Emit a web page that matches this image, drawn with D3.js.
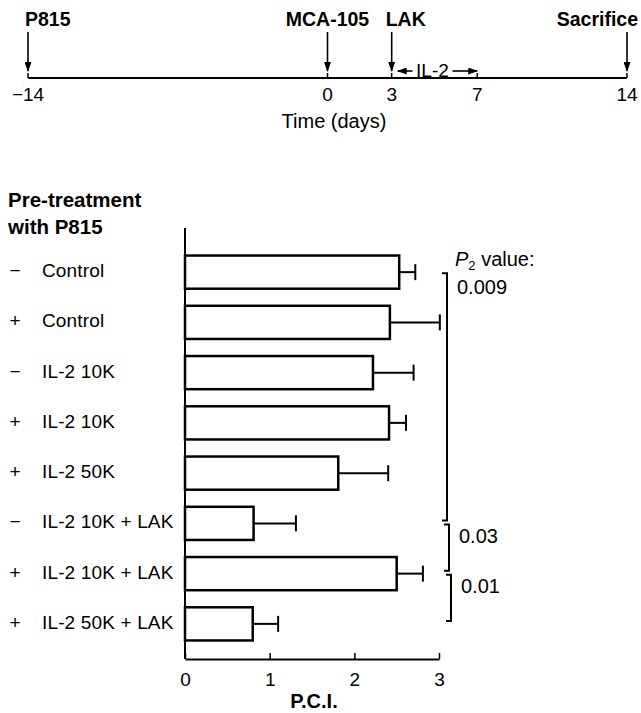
<!DOCTYPE html>
<html>
<head>
<meta charset="utf-8">
<script src="https://cdn.jsdelivr.net/npm/d3@7"></script>
<style>
  body { margin: 0; background: #fff; }
  svg { font-family: "Liberation Sans", Arial, sans-serif; }
</style>
</head>
<body>
<div class="chart"></div>
<script>
var w = 641, h = 713;

// timeline
var tlDays = [-14, 0, 3, 7, 14];
var tlEvents = ["P815", "MCA-105", "LAK", "Sacrifice"];
var tlEventDays = [-14, 0, 3, 14];
var il2Days = [3, 7];

// bar chart
var signs = ["\u2212", "+", "\u2212", "+", "+", "\u2212", "+", "+"];
var groups = ["Control", "Control", "IL-2 10K", "IL-2 10K", "IL-2 50K",
              "IL-2 10K + LAK", "IL-2 10K + LAK", "IL-2 50K + LAK"];
var pci = [2.53, 2.42, 2.22, 2.41, 1.81, 0.81, 2.50, 0.80];
var sem = [0.19, 0.59, 0.48, 0.20, 0.59, 0.50, 0.31, 0.30];
var pciTicks = [0, 1, 2, 3];
var pValues = ["0.009", "0.03", "0.01"];
var pPairs = [[0, 5], [5, 6], [6, 7]];

var svg = d3.select(".chart")
            .append("svg")
            .attr("width", w)
            .attr("height", h);

svg.append("defs").append("marker")
    .attr("id", "head")
    .attr("viewBox", "0 0 10 10")
    .attr("refX", 9).attr("refY", 5)
    .attr("markerWidth", 10).attr("markerHeight", 7)
    .attr("markerUnits", "userSpaceOnUse")
    .attr("orient", "auto-start-reverse")
    .attr("preserveAspectRatio", "none")
    .append("path")
    .attr("d", "M0,0 L10,5 L0,10 z")
    .attr("fill", "#000");

// ---- timeline ----
var tx = d3.scaleLinear().domain([-14, 14]).range([28, 627]);
var lineY = 78;
var tl = svg.append("g");

tl.append("line")
    .attr("x1", tx(-14)).attr("x2", tx(14))
    .attr("y1", lineY).attr("y2", lineY)
    .attr("stroke", "#000").attr("stroke-width", 2);

tl.selectAll(".tick")
    .data(tlDays)
    .enter()
    .append("line")
    .attr("x1", function(d) { return tx(d); })
    .attr("x2", function(d) { return tx(d); })
    .attr("y1", lineY - 5).attr("y2", lineY)
    .attr("stroke", "#000").attr("stroke-width", 1.5);

tl.selectAll(".daylab")
    .data(tlDays)
    .enter()
    .append("text")
    .text(function(d) { return d < 0 ? "\u2212" + Math.abs(d) : d; })
    .attr("x", function(d) { return tx(d); })
    .attr("y", 101)
    .attr("font-size", "19px")
    .attr("text-anchor", "middle");

tl.selectAll(".arrow")
    .data(tlEventDays)
    .enter()
    .append("line")
    .attr("x1", function(d) { return tx(d); })
    .attr("x2", function(d) { return tx(d); })
    .attr("y1", 32).attr("y2", lineY - 7)
    .attr("stroke", "#000").attr("stroke-width", 1.6)
    .attr("marker-end", "url(#head)");

var evAnchor = ["start", "middle", "start", "end"];
var evShift = [-3, 0, -6, 11];
tl.selectAll(".evlab")
    .data(tlEvents)
    .enter()
    .append("text")
    .text(function(d) { return d; })
    .attr("x", function(d, i) { return tx(tlEventDays[i]) + evShift[i]; })
    .attr("y", 26)
    .attr("font-size", "19.5px")
    .attr("font-weight", "bold")
    .attr("text-anchor", function(d, i) { return evAnchor[i]; });

// IL-2 double arrow
var ilMid = (tx(il2Days[0]) + tx(il2Days[1])) / 2 - 2;
tl.append("line")
    .attr("x1", ilMid - 20).attr("x2", tx(il2Days[0]) + 6)
    .attr("y1", 71).attr("y2", 71)
    .attr("stroke", "#000").attr("stroke-width", 1.6)
    .attr("marker-end", "url(#head)");
tl.append("line")
    .attr("x1", ilMid + 20).attr("x2", tx(il2Days[1]))
    .attr("y1", 71).attr("y2", 71)
    .attr("stroke", "#000").attr("stroke-width", 1.6)
    .attr("marker-end", "url(#head)");
tl.append("text")
    .text("IL-2")
    .attr("x", ilMid).attr("y", 77)
    .attr("font-size", "19px")
    .attr("text-anchor", "middle");

tl.append("text")
    .text("Time (days)")
    .attr("x", 334).attr("y", 128)
    .attr("font-size", "20px")
    .attr("text-anchor", "middle");

// ---- bar chart ----
var x = d3.scaleLinear().domain([0, 3]).range([185, 439]);
var y = d3.scaleBand()
    .domain(d3.range(groups.length))
    .range([247, 649])
    .paddingInner(0.34)
    .paddingOuter(0.17);

svg.append("text").text("Pre-treatment")
    .attr("x", 8).attr("y", 207)
    .attr("font-size", "20.5px").attr("font-weight", "bold");
svg.append("text").text("with P815")
    .attr("x", 8).attr("y", 234)
    .attr("font-size", "20.5px").attr("font-weight", "bold");

// axes
svg.append("line")
    .attr("x1", x(0)).attr("x2", x(0))
    .attr("y1", 228).attr("y2", 659)
    .attr("stroke", "#000").attr("stroke-width", 2);

var xAxis = svg.append("g")
    .attr("transform", "translate(0,659)")
    .call(d3.axisBottom(x).tickValues(pciTicks).tickFormat(d3.format("d"))
          .tickSize(-6).tickPadding(11).tickSizeOuter(0));
xAxis.select(".domain").attr("stroke-width", 2);
xAxis.selectAll(".tick line").attr("stroke-width", 1.5);
xAxis.selectAll(".tick text")
    .attr("font-size", "19px")
    .attr("font-family", "Liberation Sans, Arial, sans-serif")
    .attr("dy", "0.85em");

svg.append("text").text("P.C.I.")
    .attr("x", 314).attr("y", 708)
    .attr("font-size", "20px").attr("font-weight", "bold")
    .attr("text-anchor", "middle");

// bars
svg.selectAll(".bar")
    .data(pci)
    .enter()
    .append("rect")
    .attr("x", x(0))
    .attr("y", function(d, i) { return y(i); })
    .attr("width", function(d) { return x(d) - x(0); })
    .attr("height", y.bandwidth())
    .attr("fill", "#fff")
    .attr("stroke", "#000")
    .attr("stroke-width", 2.5);

// error bars
var eb = svg.selectAll(".err")
    .data(pci)
    .enter()
    .append("g");
eb.append("line")
    .attr("x1", function(d) { return x(d); })
    .attr("x2", function(d, i) { return x(d + sem[i]); })
    .attr("y1", function(d, i) { return y(i) + y.bandwidth() / 2; })
    .attr("y2", function(d, i) { return y(i) + y.bandwidth() / 2; })
    .attr("stroke", "#000").attr("stroke-width", 2);
eb.append("line")
    .attr("x1", function(d, i) { return x(d + sem[i]); })
    .attr("x2", function(d, i) { return x(d + sem[i]); })
    .attr("y1", function(d, i) { return y(i) + y.bandwidth() / 2 - 8; })
    .attr("y2", function(d, i) { return y(i) + y.bandwidth() / 2 + 8; })
    .attr("stroke", "#000").attr("stroke-width", 2);

// row labels
svg.selectAll(".sign")
    .data(signs)
    .enter()
    .append("text")
    .text(function(d) { return d; })
    .attr("x", 15)
    .attr("y", function(d, i) { return y(i) + y.bandwidth() / 2 + 5; })
    .attr("font-size", "19px")
    .attr("text-anchor", "middle");

svg.selectAll(".grp")
    .data(groups)
    .enter()
    .append("text")
    .text(function(d) { return d; })
    .attr("x", 42)
    .attr("y", function(d, i) { return y(i) + y.bandwidth() / 2 + 5; })
    .attr("font-size", "19px")
    .attr("letter-spacing", "0.15px");

// P2 brackets
svg.append("text")
    .attr("x", 455).attr("y", 266)
    .attr("font-size", "20px")
    .call(function(t) {
      t.append("tspan").text("P").attr("font-style", "italic");
      t.append("tspan").text("2").attr("font-size", "13px").attr("dy", 4);
      t.append("tspan").text(" value:").attr("dy", -4);
    });

var bx = [447, 449, 451];
svg.selectAll(".br")
    .data(pPairs)
    .enter()
    .append("path")
    .attr("d", function(d, i) {
      var y1 = y(d[0]) + y.bandwidth() / 2 + 1,
          y2 = y(d[1]) + y.bandwidth() / 2 - 3;
      return "M" + (bx[i] - 5) + "," + y1 + " H" + bx[i] + " V" + y2 + " H" + (bx[i] - 5);
    })
    .attr("fill", "none")
    .attr("stroke", "#000")
    .attr("stroke-width", 2);

svg.selectAll(".pv")
    .data(pValues)
    .enter()
    .append("text")
    .text(function(d) { return d; })
    .attr("x", function(d, i) { return bx[i] + 10; })
    .attr("y", function(d, i) { return i == 0 ? 294 : (y(pPairs[i][0]) + y(pPairs[i][1])) / 2 + y.bandwidth() / 2 - 6; })
    .attr("font-size", "20px");
</script>
</body>
</html>
